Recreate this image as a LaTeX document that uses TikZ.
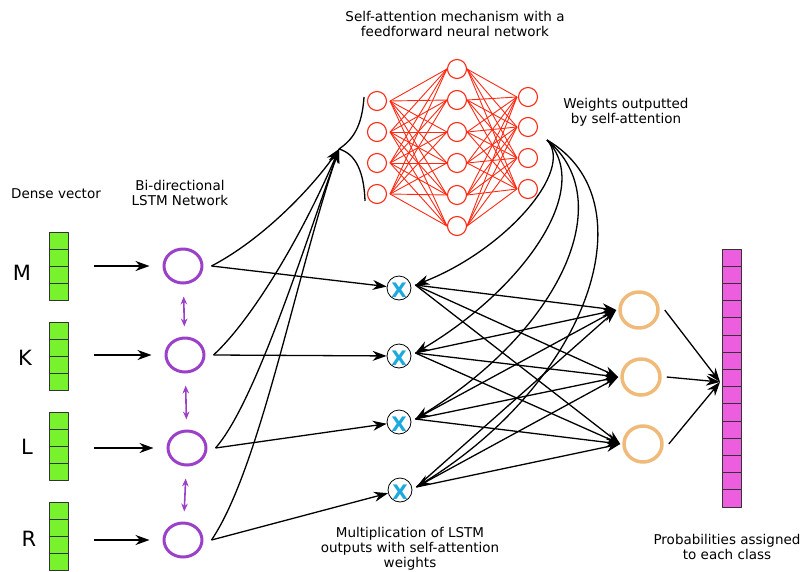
\documentclass[tikz,border=0pt]{standalone}
\usepackage{fontspec}
\setmainfont{DejaVu Sans}
\usetikzlibrary{arrows.meta,shapes.geometric}
\definecolor{vgreen}{RGB}{120,242,45}
\definecolor{vpink}{RGB}{236,94,222}
\definecolor{lpurple}{RGB}{155,64,200}
\definecolor{otan}{RGB}{240,186,122}
\definecolor{nred}{RGB}{255,42,20}
\definecolor{xblue}{RGB}{28,170,222}
\tikzset{
  lstm/.style={ellipse,draw=lpurple,line width=3pt,minimum width=38pt,minimum height=34pt,inner sep=0pt},
  outc/.style={ellipse,draw=otan,line width=3.5pt,minimum width=38pt,minimum height=36pt,inner sep=0pt},
  neur/.style={circle,draw=nred,line width=1.1pt,minimum size=19pt,inner sep=0pt},
  mul/.style={circle,draw,line width=0.8pt,minimum size=24pt,inner sep=0pt,
    label={[text=xblue,font=\fontsize{20}{20}\selectfont\bfseries,yshift=-2pt]center:X}},
  gcell/.style={draw=black!80,fill=vgreen,line width=0.9pt},
  pcell/.style={draw=black!80,fill=vpink,line width=0.9pt},
  lbl/.style={align=center,font=\fontsize{13.5}{15}\selectfont},
  letter/.style={font=\fontsize{21}{24}\selectfont},
  nnline/.style={nred,line width=0.9pt},
  twoway/.style={<->,lpurple,line width=1.6pt,>={Stealth[length=8pt,width=6.5pt]},shorten <=12pt,shorten >=10pt}
}
\begin{document}
\begin{tikzpicture}[x=1pt,y=-1pt,>={Stealth[length=14pt,width=10pt]},line join=round,line width=1.3pt]
\useasboundingbox (0,0) rectangle (803,571);

% dense vectors
\foreach \n/\y/\a in {m/232/266,k/322/355,l/412/448,r/502/540}{
  \foreach \c in {0,...,3} \draw[gcell] (49,\y+17*\c) rectangle +(19,17);
  \coordinate (v\n) at (68,\a);
}
\node[letter] (lm) at (22,273) {M};
\node[letter] (lk) at (25,358) {K};
\node[letter] (ll) at (27,447) {L};
\node[letter] (lr) at (29,539) {R};

\node[lstm] (hm) at (183,266) {};
\node[lstm] (hk) at (185,355) {};
\node[lstm] (hl) at (187,448) {};
\node[lstm] (hr) at (183,540) {};
\foreach \n in {m,k,l,r} \draw[->,line width=2pt,shorten <=26pt,shorten >=13pt] (v\n) -- (h\n);
\draw[twoway] (hm) -- (hk);
\draw[twoway] (hk) -- (hl);
\draw[twoway] (hl) -- (hr);

% attention network
\foreach \i/\y in {1/101,2/132,3/163,4/194} \node[neur] (a\i) at (377,\y) {};
\foreach \i/\y in {1/69,2/100,3/132,4/163,5/195,6/226} \node[neur] (b\i) at (457,\y) {};
\foreach \i/\y in {1/97,2/127,3/158,4/189} \node[neur] (c\i) at (528,\y) {};
\foreach \i in {1,...,4} \foreach \j in {1,...,6} \draw[nnline] ([xshift=3pt]a\i.east) -- (b\j.west);
\foreach \j in {1,...,6} \foreach \i in {1,...,4} \draw[nnline] (b\j.east) -- ([xshift=-1pt]c\i.west);

\coordinate (att) at (339,149);
\draw (364,97) .. controls (362,128) and (352,140) .. (att) .. controls (356,154) and (364,172) .. (365,201);

\foreach \n in {m,k,l,r} \coordinate (o\n) at ([xshift=8pt]h\n.east);
\draw[->] (om) .. controls +(50,-26) and +(-29,41) .. (att);
\draw[->] (ok) .. controls +(37,-34) and +(-39,91) .. (att);
\draw[->] (ol) .. controls +(38,-43) and +(-39,111) .. (att);
\draw[->] (or) .. controls +(48,-71) and +(-44,131) .. (att);

% multiplication
\node[mul] (x1) at (399,288) {};
\node[mul] (x2) at (399,356) {};
\node[mul] (x3) at (399,422) {};
\node[mul] (x4) at (400,490) {};
\draw[->] (om) -- (x1);
\draw[->] (ok) -- (x2);
\draw[->] (ol) -- (x3);
\draw[->] (or) -- (x4);

\coordinate (w) at (547,140);
\foreach \i in {1,...,4} \coordinate (p\i) at ([xshift=4pt,yshift=3pt]x\i.east);
\draw[->] (w) .. controls +(28,30) and +(90,-35) .. (p1);
\draw[->] (w) .. controls +(48,50) and +(105,-62) .. (p2);
\draw[->] (w) .. controls +(73,60) and +(145,-89) .. (p3);
\draw[->] (w) .. controls +(103,60) and +(174,-107) .. (p4);

% outputs
\node[outc] (o1) at (639,310) {};
\node[outc] (o2) at (641,377) {};
\node[outc] (o3) at (643,444) {};
\foreach \i in {1,...,4} \foreach \j in {1,2,3} \draw[->] (p\i) -- ([xshift=-2pt]o\j.west);

\foreach \c in {0,...,14} \draw[pcell] (722,249+17.2*\c) rectangle +(19,17.2);
\coordinate (prob) at (720,382);
\foreach \j in {1,2,3} \draw[->] ([xshift=5pt]o\j.east) -- (prob);

% labels
\node[lbl] (tdense) at (56,194) {Dense vector};
\node[lbl] (tlstm) at (180,193) {Bi-directional\\LSTM Network};
\node[lbl] (tatt) at (455,24) {Self-attention mechanism with a\\feedforward neural network};
\node[lbl] (twts) at (626,112) {Weights outputted\\by self-attention};
\node[lbl] (tmul) at (410,549) {Multiplication of LSTM\\outputs with self-attention\\weights};
\node[lbl] (tprob) at (727,547) {Probabilities assigned\\to each class};
\end{tikzpicture}
\end{document}
